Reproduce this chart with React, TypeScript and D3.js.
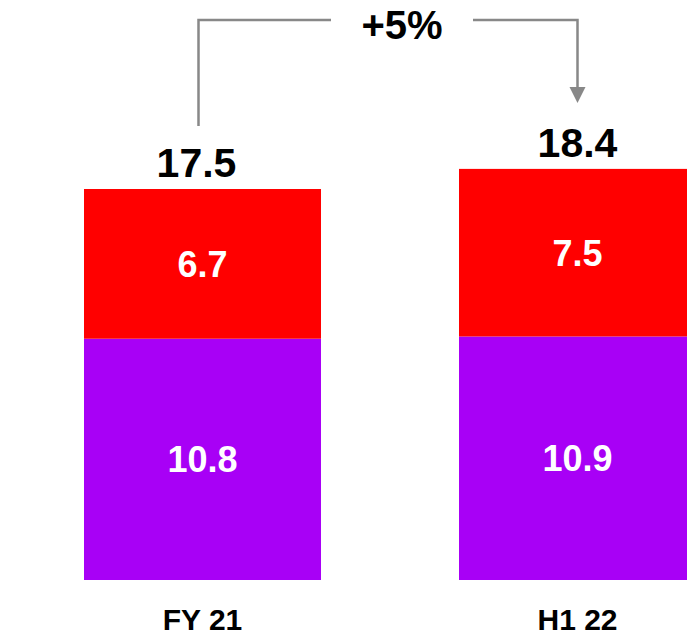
import React from "react";
import * as d3 from "d3";

const categories = ["FY 21", "H1 22"];
const purpleValues = [10.8, 10.9];
const redValues = [6.7, 7.5];
const totals = [17.5, 18.4];
const growthLabel = "+5%";

const width = 687;
const height = 641;
const baseline = 580;

const App: React.FC = () => {
  const x = d3.scaleBand().domain(categories).range([84, 696]).paddingInner(0.368).paddingOuter(0);
  const y = d3.scaleLinear().domain([0, 17.5]).range([baseline, 189]);

  const stacked = d3
    .stack<{ cat: string; purple: number; red: number }>()
    .keys(["purple", "red"])(
    categories.map((c, i) => ({ cat: c, purple: purpleValues[i], red: redValues[i] }))
  );
  const colors: Record<string, string> = { purple: "#a800f6", red: "#ff0000" };

  const font = "'Liberation Sans', Arial, sans-serif";
  const bw = x.bandwidth();
  const cx = (c: string) => (x(c) ?? 0) + bw / 2;

  // bracket between the two totals
  const leftX = cx(categories[0]) - 4;
  const rightX = cx(categories[1]);
  const topY = 20;
  const gapL = 331;
  const gapR = 473;
  const midX = (gapL + gapR) / 2;

  return (
    <svg
      width={width}
      height={height}
      style={{ position: "absolute", left: 0, top: 0, background: "#fff" }}
      fontFamily={font}
      fontWeight="bold"
    >
      {stacked.map((layer) =>
        layer.map((d, i) => (
          <g key={layer.key + i}>
            <rect
              x={x(categories[i])}
              y={y(d[1])}
              width={bw}
              height={y(d[0]) - y(d[1])}
              fill={colors[layer.key]}
            />
            <text
              x={cx(categories[i])}
              y={(y(d[0]) + y(d[1])) / 2 + 13}
              textAnchor="middle"
              fill="#fff"
              fontSize={36}
            >
              {(d[1] - d[0]).toFixed(1)}
            </text>
          </g>
        ))
      )}

      {totals.map((t, i) => (
        <text
          key={"t" + i}
          x={cx(categories[i]) - (i === 0 ? 6 : 0)}
          y={y(t) - 12}
          textAnchor="middle"
          fill="#000"
          fontSize={41}
        >
          {t.toFixed(1)}
        </text>
      ))}

      {categories.map((c) => (
        <text key={c} x={cx(c)} y={630} textAnchor="middle" fill="#000" fontSize={30}>
          {c}
        </text>
      ))}

      <path
        d={`M${leftX},126 V${topY} H${gapL}`}
        fill="none"
        stroke="#888"
        strokeWidth={2.5}
      />
      <path
        d={`M${gapR},${topY} H${rightX} V88`}
        fill="none"
        stroke="#888"
        strokeWidth={2.5}
      />
      <path d={`M${rightX - 8},87 L${rightX + 8},87 L${rightX},103 Z`} fill="#888" />
      <text x={midX} y={39} textAnchor="middle" fill="#000" fontSize={40}>
        {growthLabel}
      </text>
    </svg>
  );
};

export default App;
